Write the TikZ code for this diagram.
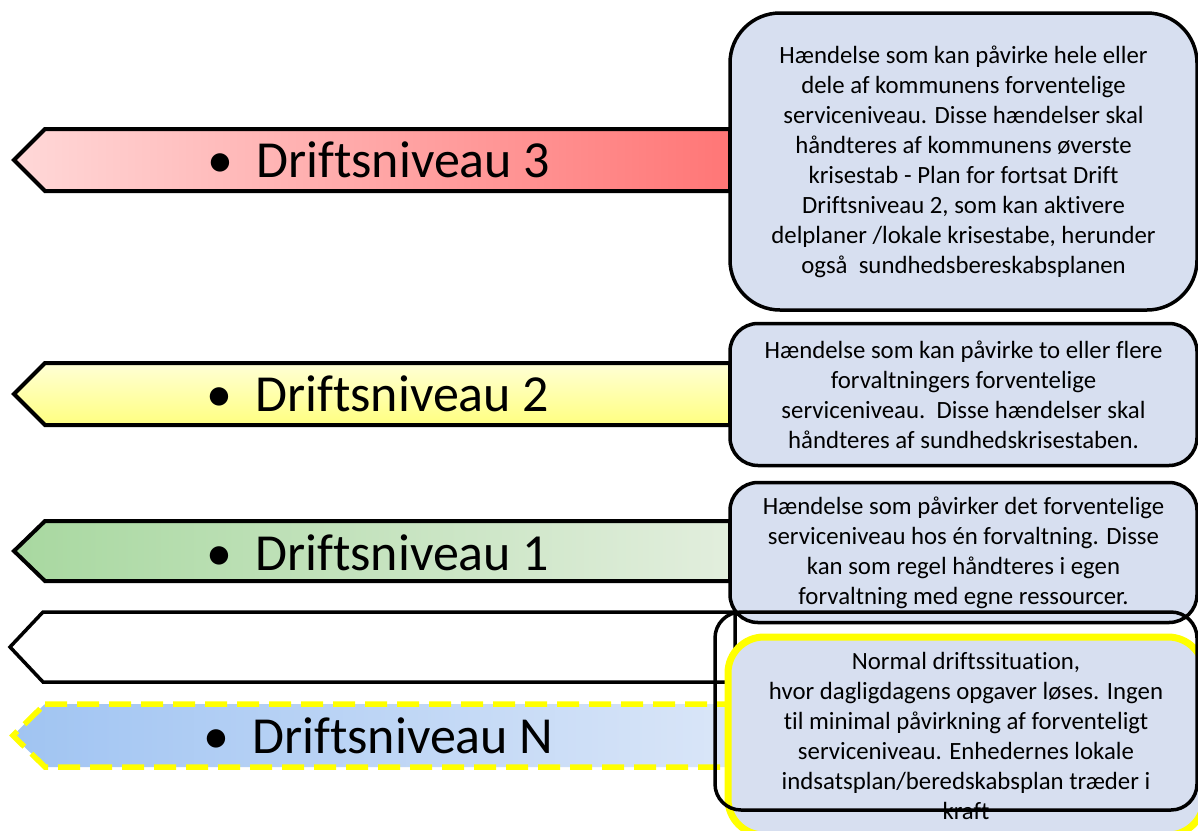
\documentclass[tikz,border=0pt]{standalone}
\usepackage{fontspec}
\setmainfont{Carlito}[Ligatures={NoCommon}]
\definecolor{boxfill}{RGB}{215,223,240}
\definecolor{redL}{RGB}{255,216,216}
\definecolor{redR}{RGB}{255,118,118}
\definecolor{yelT}{RGB}{255,255,214}
\definecolor{yelB}{RGB}{255,255,128}
\definecolor{grnL}{RGB}{168,216,160}
\definecolor{grnR}{RGB}{226,238,221}
\definecolor{bluL}{RGB}{160,196,242}
\definecolor{bluR}{RGB}{218,230,248}
\definecolor{yelline}{RGB}{255,255,0}
\begin{document}
\begin{tikzpicture}[x=1pt,y=-1pt,
  arrowshape/.style={draw=black,line width=4pt,line join=miter},
  lvl/.style={anchor=base west,inner sep=0pt,font=\fontsize{52}{60}\selectfont},
  bul/.style={anchor=base,inner sep=0pt,font=\fontsize{52}{60}\selectfont},
  infobox/.style={draw=black,line width=3.5pt,fill=boxfill,inner sep=0pt,align=center,
    font=\fontsize{24.8}{30}\selectfont},
]
\useasboundingbox (0,0) rectangle (1198,830);
\fill[white] (0,0) rectangle (1198,830);

% level arrows
\draw[arrowshape,left color=redL,right color=redR]
  (45,129) -- (730,129) -- (730,191) -- (45,191) -- (14,160) -- cycle;
\draw[arrowshape,top color=yelT,bottom color=yelB]
  (45,363) -- (730,363) -- (730,425) -- (45,425) -- (14,394) -- cycle;
\draw[arrowshape,left color=grnL,right color=grnR]
  (45,521) -- (730,521) -- (730,581) -- (45,581) -- (14,551) -- cycle;
\draw[black,line width=3.5pt,line join=miter]
  (43,612) -- (735,612) -- (735,682) -- (43,682) -- (10,647) -- cycle;
\draw[yelline,line width=5.5pt,dash pattern=on 22pt off 10pt,left color=bluL,right color=bluR,line join=miter]
  (45,704) -- (735,704) -- (735,767) -- (45,767) -- (13,735.5) -- cycle;

% labels
\node[bul] (b3) at (220,177) {•};
\node[lvl] (l3) at (256,177) {Driftsniveau 3};
\node[bul] (b2) at (219,411) {•};
\node[lvl] (l2) at (255,411) {Driftsniveau 2};
\node[bul] (b1) at (219,570) {•};
\node[lvl] (l1) at (255,570) {Driftsniveau 1};
\node[bul] (bn) at (216,753) {•};
\node[lvl] (ln) at (252,753) {Driftsniveau N};

% info boxes
\node[infobox,rounded corners=50pt,minimum width=467pt,minimum height=297pt] (i3) at (963.5,161.5)
 { Hændelse som kan påvirke hele eller\\dele af kommunens forventelige\\serviceniveau. Disse hændelser skal\\håndteres af kommunens øverste\\krisestab - Plan for fortsat Drift\\Driftsniveau 2, som kan aktivere\\delplaner /lokale krisestabe, herunder\\også\ \ sundhedsbereskabsplanen};
\node[infobox,rounded corners=28pt,minimum width=467pt,minimum height=142pt] (i2) at (963.5,394.5)
 {Hændelse som kan påvirke to eller flere\\forvaltningers forventelige\\serviceniveau.\ \ Disse hændelser skal\\håndteres af sundhedskrisestaben.};
\node[infobox,rounded corners=28pt,minimum width=467pt,minimum height=140pt] (i1) at (963.5,552.5)
 {Hændelse som påvirker det forventelige\\serviceniveau hos én forvaltning. Disse\\kan som regel håndteres i egen\\forvaltning med egne ressourcer.};
\node[infobox,draw=yelline,line width=7pt,rounded corners=36pt,minimum width=476pt,minimum height=198pt] (in) at (966,736)
 {Normal driftssituation,\\hvor dagligdagens opgaver løses. Ingen\\til minimal påvirkning af forventeligt\\serviceniveau. Enhedernes lokale\\indsatsplan/beredskabsplan træder i\\kraft};
\node[draw=black,line width=3.5pt,rounded corners=26pt,minimum width=482pt,minimum height=198pt,inner sep=0pt] (frame) at (956,711) {};
\end{tikzpicture}
\end{document}
